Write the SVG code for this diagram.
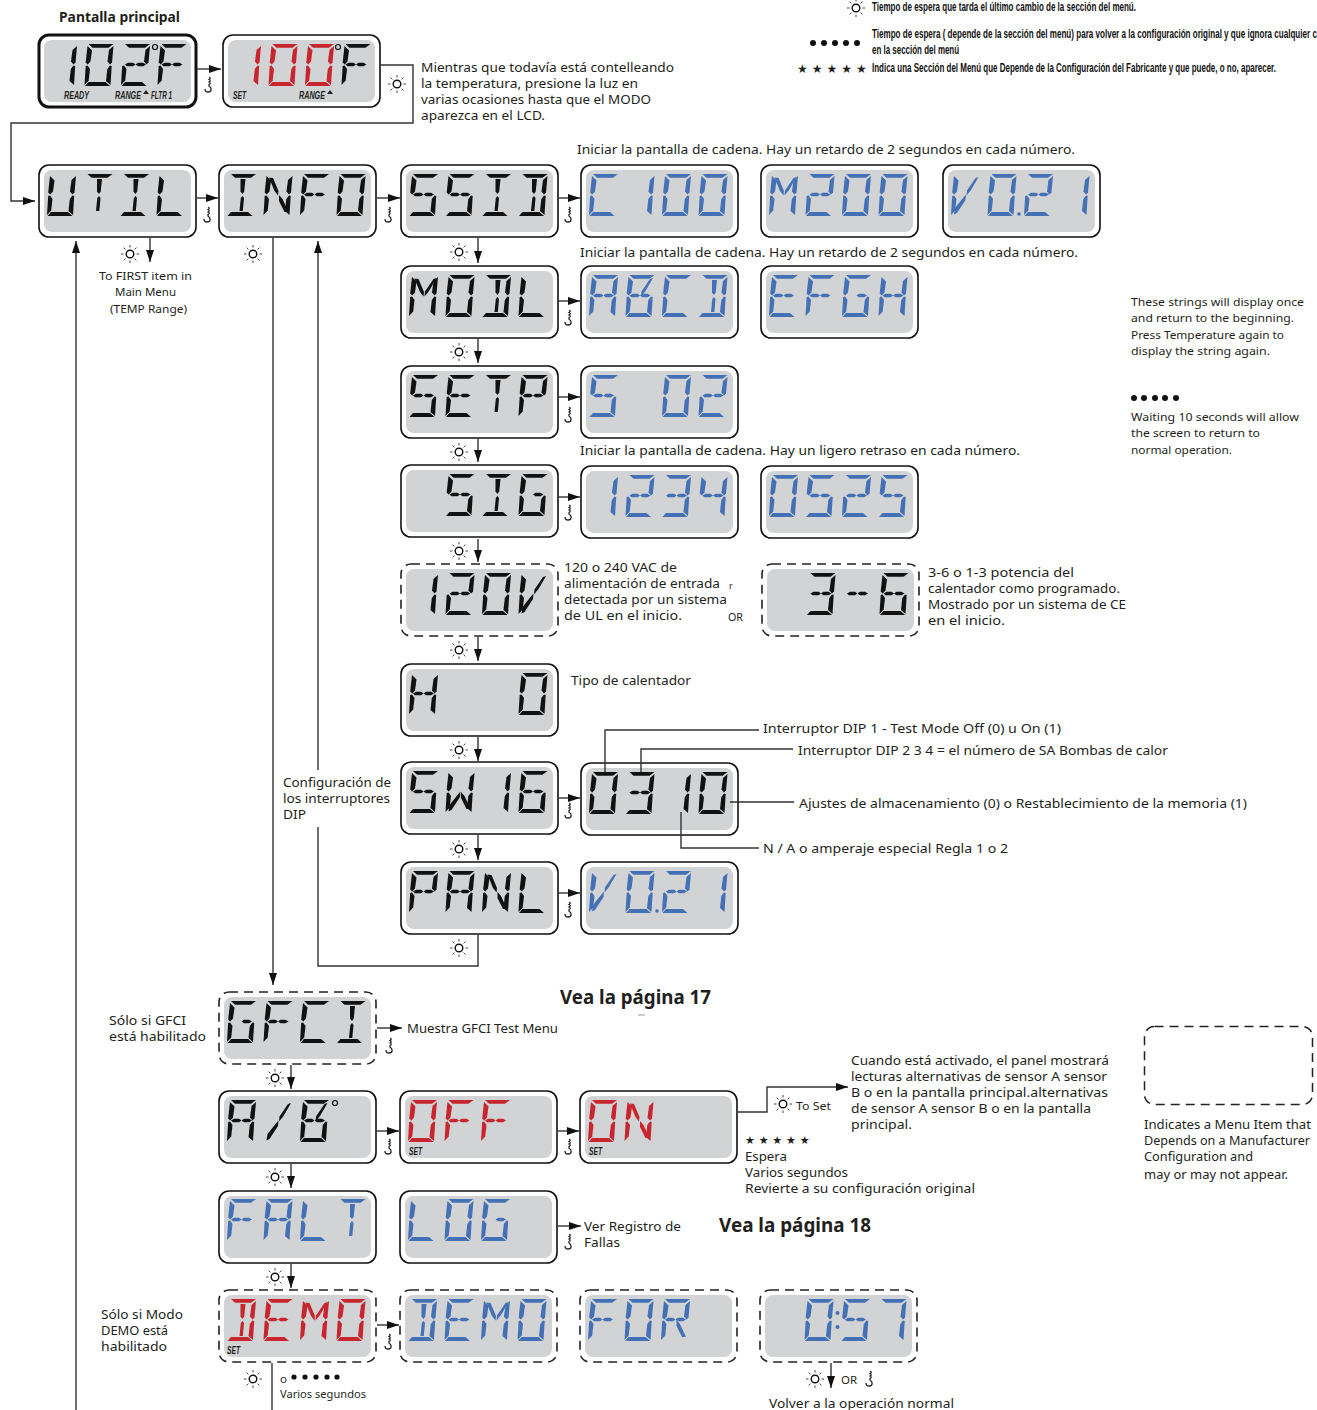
<svg xmlns="http://www.w3.org/2000/svg" width="1317" height="1410" viewBox="0 0 1317 1410">
<style>
text{font-family:"Noto Sans","Open Sans",sans-serif;font-size:13px;fill:#231f20}
.s{font-size:11.500px}
.h{font-weight:700;font-size:15px}
.b{font-weight:700;font-size:20px}
.l{font-family:"Liberation Sans",sans-serif;font-weight:700;font-size:12px;fill:#111}
.t{font-family:"Liberation Sans",sans-serif;font-weight:700;font-style:italic;font-size:10px;fill:#231f20}
.o{fill:#fff;stroke:#111;stroke-width:1.6}
.od{fill:#fff;stroke:#222;stroke-width:1.6;stroke-dasharray:9 6}
.i{fill:#d1d3d4}
.k{fill:#111}.r{fill:#c8252f}.u{fill:#4470b6}
.c{fill:none;stroke:#333;stroke-width:1.4}
.a{marker-end:url(#ar)}
.sun circle{fill:#fff;stroke:#111;stroke-width:1.4}
.sun path{stroke:#111;stroke-width:.8;fill:none}
.hk{fill:none;stroke:#222;stroke-width:1.3}
</style>
<defs>
<marker id="ar" markerUnits="userSpaceOnUse" markerWidth="12" markerHeight="8" refX="12" refY="4" orient="auto"><path d="M0,0L12,4L0,8Z" fill="#111"/></marker>
<g id="sun" class="sun"><circle r="3.8"/><path d="M0,-9V-6.5M0,9V6.5M-9,0H-6.5M9,0H6.500M-6.400,-6.400L-4.600,-4.600M6.400,-6.400L4.600,-4.600M-6.400,6.400L-4.600,4.600M6.400,6.400L4.600,4.600"/></g>
<path id="hook" class="hk" d="M0,-7q2.400,1 0,2.500q2.400,1 0,2.500q2.400,1 0,2.500V2c3,2 3,6 -1,6c-2,0 -3,-1 -3,-3"/>
<polygon id="a" points="4,0 29,0 24,3.800 8,3.800"/>
<polygon id="f" points="3,2 7.500,6.500 6,17.500 3.200,20.500 1.200,18.500"/>
<polygon id="e" points="1.200,22 3,21.500 5.500,25 4.200,36.500 0,41"/>
<polygon id="b" points="29,2 27.500,18.500 25.500,20.500 23,17.500 24.500,6"/>
<polygon id="c" points="27.200,22 25.500,21.500 22.800,25 21.500,37 26,41"/>
<polygon id="d" points="0.500,42 4,38 21,38 25.500,42"/>
<polygon id="g1" points="4,20.500 7,18.800 12,18.800 14.500,20.500 12,22.200 6,22.200"/>
<polygon id="g2" points="14.500,20.500 17,18.800 22,18.800 25,20.500 22,22.200 17,22.200"/>
<polygon id="m" points="13.500,5 18.500,5 17.200,17.500 15.500,20 13.500,17.500"/>
<polygon id="n" points="13.800,24 15.500,22 17,24 15.800,37 12.500,37"/>
<polygon id="tl" points="5.500,3.500 9.500,4 15,17 14.500,21.500 11,17"/>
<polygon id="tr" points="24.500,4 27.500,3 20,16 15.500,21.500 16,16.500"/>
<polygon id="bl" points="3,40.500 4,34 12,24 15,20.500 14.500,26 6,39"/>
<polygon id="br" points="15.500,21 19,25 25,38 21,38 15.500,27"/>
<g id="G-0"><use href="#a"/><use href="#b"/><use href="#c"/><use href="#d"/><use href="#e"/><use href="#f"/></g>
<g id="G-1"><use href="#b"/><use href="#c"/></g>
<g id="G-2"><use href="#a"/><use href="#b"/><use href="#g1"/><use href="#g2"/><use href="#e"/><use href="#d"/></g>
<g id="G-3"><use href="#a"/><use href="#b"/><use href="#g1"/><use href="#g2"/><use href="#c"/><use href="#d"/></g>
<g id="G-4"><use href="#f"/><use href="#b"/><use href="#g1"/><use href="#g2"/><use href="#c"/></g>
<g id="G-5"><use href="#a"/><use href="#f"/><use href="#g1"/><use href="#g2"/><use href="#c"/><use href="#d"/></g>
<g id="G-6"><use href="#a"/><use href="#f"/><use href="#e"/><use href="#g1"/><use href="#g2"/><use href="#c"/><use href="#d"/></g>
<g id="G-7"><use href="#a"/><use href="#b"/><use href="#c"/></g>
<g id="G-A"><use href="#a"/><use href="#b"/><use href="#c"/><use href="#e"/><use href="#f"/><use href="#g1"/><use href="#g2"/></g>
<g id="G-B"><use href="#a"/><use href="#tr"/><use href="#c"/><use href="#d"/><use href="#e"/><use href="#f"/><use href="#g1"/><use href="#g2"/></g>
<g id="G-C"><use href="#a"/><use href="#d"/><use href="#e"/><use href="#f"/></g>
<g id="G-D"><use href="#a"/><use href="#b"/><use href="#c"/><use href="#d"/><use href="#m"/><use href="#n"/></g>
<g id="G-E"><use href="#a"/><use href="#d"/><use href="#e"/><use href="#f"/><use href="#g1"/><use href="#g2"/></g>
<g id="G-F"><use href="#a"/><use href="#e"/><use href="#f"/><use href="#g1"/><use href="#g2"/></g>
<g id="G-G"><use href="#a"/><use href="#c"/><use href="#d"/><use href="#e"/><use href="#f"/><use href="#g2"/></g>
<g id="G-H"><use href="#b"/><use href="#c"/><use href="#e"/><use href="#f"/><use href="#g1"/><use href="#g2"/></g>
<g id="G-I"><use href="#a"/><use href="#d"/><use href="#m"/><use href="#n"/></g>
<g id="G-L"><use href="#d"/><use href="#e"/><use href="#f"/></g>
<g id="G-M"><use href="#b"/><use href="#c"/><use href="#e"/><use href="#f"/><use href="#tl"/><use href="#tr"/></g>
<g id="G-N"><use href="#b"/><use href="#c"/><use href="#e"/><use href="#f"/><use href="#tl"/><use href="#br"/></g>
<g id="G-P"><use href="#a"/><use href="#b"/><use href="#e"/><use href="#f"/><use href="#g1"/><use href="#g2"/></g>
<g id="G-R"><use href="#a"/><use href="#b"/><use href="#e"/><use href="#f"/><use href="#g1"/><use href="#g2"/><use href="#br"/></g>
<g id="G-T"><use href="#a"/><use href="#m"/><use href="#n"/></g>
<g id="G-U"><use href="#b"/><use href="#c"/><use href="#d"/><use href="#e"/><use href="#f"/></g>
<g id="G-V"><use href="#e"/><use href="#f"/><use href="#bl"/><use href="#tr"/></g>
<g id="G-W"><use href="#b"/><use href="#c"/><use href="#e"/><use href="#f"/><use href="#bl"/><use href="#br"/></g>
<g id="G-s"><use href="#bl"/><use href="#tr"/></g>
<g id="G-h"><use href="#g1"/><use href="#g2"/></g>
<g id="lcd"><rect class="o" width="157" height="72" rx="10"/><rect class="i" x="5" y="5" width="147" height="62" rx="8"/></g>
<g id="lcdd"><rect class="od" width="157" height="72" rx="10"/><rect class="i" x="5" y="5" width="147" height="62" rx="8"/></g>
<polygon id="tri" points="0,4 3,0 6,4" fill="#231f20"/>
</defs>

<g id="n-102f" transform="translate(39,35)"><rect class="o" style="stroke-width:3" width="157" height="72" rx="10"/><rect class="i" x="5" y="5" width="147" height="62" rx="8"/><g class="k"><use href="#G-1" x="9" y="9"/><use href="#G-0" x="45.500" y="9"/><use href="#G-2" x="82" y="9"/><use href="#G-F" x="118.500" y="9"/></g><circle cx="116" cy="12" r="2.500" fill="none" stroke="#111" stroke-width="1.200"/><text class="t" x="25" y="64" textLength="25" lengthAdjust="spacingAndGlyphs">READY</text><text class="t" x="76" y="64" textLength="26" lengthAdjust="spacingAndGlyphs">RANGE</text><use href="#tri" x="104" y="55"/><text class="t" x="112" y="64" textLength="21" lengthAdjust="spacingAndGlyphs">FLTR 1</text></g>
<g id="n-100f" transform="translate(223,35)"><use href="#lcd"/><g class="r"><use href="#G-1" x="9" y="9"/><use href="#G-0" x="45.500" y="9"/><use href="#G-0" x="82" y="9"/></g><g class="k"><use href="#G-F" x="118.500" y="9"/></g><circle cx="115" cy="12" r="2.500" fill="none" stroke="#111" stroke-width="1.200"/><text class="t" x="10" y="64" textLength="13" lengthAdjust="spacingAndGlyphs">SET</text><text class="t" x="76" y="64" textLength="26" lengthAdjust="spacingAndGlyphs">RANGE</text><use href="#tri" x="104" y="55"/></g>

<g id="n-util" transform="translate(39,165)"><use href="#lcd"/><g class="k"><use href="#G-U" x="8" y="9"/><use href="#G-T" x="44.500" y="9"/><use href="#G-I" x="81" y="9"/><use href="#G-L" x="117.500" y="9"/></g></g>
<g id="n-info" transform="translate(219,165)"><use href="#lcd"/><g class="k"><use href="#G-I" x="8" y="9"/><use href="#G-N" x="44.500" y="9"/><use href="#G-F" x="81" y="9"/><use href="#G-0" x="117.500" y="9"/></g></g>
<g id="n-ssid" transform="translate(401,165)"><use href="#lcd"/><g class="k"><use href="#G-5" x="8" y="9"/><use href="#G-5" x="44.500" y="9"/><use href="#G-I" x="81" y="9"/><use href="#G-D" x="117.500" y="9"/></g></g>
<g id="n-c100" transform="translate(581,165)"><use href="#lcd"/><g class="u"><use href="#G-C" x="8" y="9"/><use href="#G-1" x="44.500" y="9"/><use href="#G-0" x="81" y="9"/><use href="#G-0" x="117.500" y="9"/></g></g>
<g id="n-m200" transform="translate(761,165)"><use href="#lcd"/><g class="u"><use href="#G-M" x="8" y="9"/><use href="#G-2" x="44.500" y="9"/><use href="#G-0" x="81" y="9"/><use href="#G-0" x="117.500" y="9"/></g></g>
<g id="n-v021a" transform="translate(943,165)"><use href="#lcd"/><g class="u"><use href="#G-V" x="8" y="9"/><use href="#G-0" x="44.500" y="9"/><circle cx="76" cy="49" r="1.800"/><use href="#G-2" x="81" y="9"/><use href="#G-1" x="117.500" y="9"/></g></g>

<g id="n-modl" transform="translate(401,266)"><use href="#lcd"/><g class="k"><use href="#G-M" x="8" y="9"/><use href="#G-0" x="44.500" y="9"/><use href="#G-D" x="81" y="9"/><use href="#G-L" x="117.500" y="9"/></g></g>
<g id="n-abcd" transform="translate(581,266)"><use href="#lcd"/><g class="u"><use href="#G-A" x="8" y="9"/><use href="#G-B" x="44.500" y="9"/><use href="#G-C" x="81" y="9"/><use href="#G-D" x="117.500" y="9"/></g></g>
<g id="n-efgh" transform="translate(761,266)"><use href="#lcd"/><g class="u"><use href="#G-E" x="8" y="9"/><use href="#G-F" x="44.500" y="9"/><use href="#G-G" x="81" y="9"/><use href="#G-H" x="117.500" y="9"/></g></g>

<g id="n-setp" transform="translate(401,366)"><use href="#lcd"/><g class="k"><use href="#G-5" x="8" y="9"/><use href="#G-E" x="44.500" y="9"/><use href="#G-T" x="81" y="9"/><use href="#G-P" x="117.500" y="9"/></g></g>
<g id="n-s02" transform="translate(581,366)"><use href="#lcd"/><g class="u"><use href="#G-5" x="8" y="9"/><use href="#G-0" x="81" y="9"/><use href="#G-2" x="117.500" y="9"/></g></g>

<g id="n-sig" transform="translate(401,465)"><use href="#lcd"/><g class="k"><use href="#G-5" x="44.500" y="9"/><use href="#G-I" x="81" y="9"/><use href="#G-G" x="117.500" y="9"/></g></g>
<g id="n-1234" transform="translate(581,466)"><use href="#lcd"/><g class="u"><use href="#G-1" x="8" y="9"/><use href="#G-2" x="44.500" y="9"/><use href="#G-3" x="81" y="9"/><use href="#G-4" x="117.500" y="9"/></g></g>
<g id="n-0525" transform="translate(761,466)"><use href="#lcd"/><g class="u"><use href="#G-0" x="8" y="9"/><use href="#G-5" x="44.500" y="9"/><use href="#G-2" x="81" y="9"/><use href="#G-5" x="117.500" y="9"/></g></g>

<g id="n-120v" transform="translate(401,564)"><use href="#lcdd"/><g class="k"><use href="#G-1" x="8" y="9"/><use href="#G-2" x="44.500" y="9"/><use href="#G-0" x="81" y="9"/><use href="#G-V" x="117.500" y="9"/></g></g>
<g id="n-3-6" transform="translate(762,564)"><use href="#lcdd"/><g class="k"><use href="#G-3" x="44.500" y="9"/><use href="#G-h" x="81" y="9"/><use href="#G-6" x="117.500" y="9"/></g></g>

<g id="n-h0" transform="translate(401,664)"><use href="#lcd"/><g class="k"><use href="#G-H" x="8" y="9"/><use href="#G-0" x="117.500" y="9"/></g></g>
<g id="n-sw16" transform="translate(401,762)"><use href="#lcd"/><g class="k"><use href="#G-5" x="8" y="9"/><use href="#G-W" x="44.500" y="9"/><use href="#G-1" x="81" y="9"/><use href="#G-6" x="117.500" y="9"/></g></g>
<g id="n-0310" transform="translate(581,763)"><use href="#lcd"/><g class="k"><use href="#G-0" x="8" y="9"/><use href="#G-3" x="44.500" y="9"/><use href="#G-1" x="81" y="9"/><use href="#G-0" x="117.500" y="9"/></g></g>
<g id="n-panl" transform="translate(401,862)"><use href="#lcd"/><g class="k"><use href="#G-P" x="8" y="9"/><use href="#G-A" x="44.500" y="9"/><use href="#G-N" x="81" y="9"/><use href="#G-L" x="117.500" y="9"/></g></g>
<g id="n-v021b" transform="translate(581,862)"><use href="#lcd"/><g class="u"><use href="#G-V" x="8" y="9"/><use href="#G-0" x="44.500" y="9"/><circle cx="76" cy="49" r="1.800"/><use href="#G-2" x="81" y="9"/><use href="#G-1" x="117.500" y="9"/></g></g>

<g id="n-gfci" transform="translate(219,992)"><use href="#lcdd"/><g class="k"><use href="#G-G" x="8" y="9"/><use href="#G-F" x="44.500" y="9"/><use href="#G-C" x="81" y="9"/><use href="#G-I" x="117.500" y="9"/></g></g>
<g id="n-ab" transform="translate(219,1091)"><use href="#lcd"/><g class="k"><use href="#G-A" x="8" y="9"/><use href="#G-s" x="44.500" y="9"/><use href="#G-B" x="81" y="9"/></g><circle cx="116" cy="12" r="2.500" fill="none" stroke="#111" stroke-width="1.200"/></g>
<g id="n-off" transform="translate(400,1091)"><use href="#lcd"/><g class="r"><use href="#G-0" x="8" y="9"/><use href="#G-F" x="44.500" y="9"/><use href="#G-F" x="81" y="9"/></g><text class="t" x="9" y="64" textLength="13" lengthAdjust="spacingAndGlyphs">SET</text></g>
<g id="n-on" transform="translate(580,1091)"><use href="#lcd"/><g class="r"><use href="#G-0" x="8" y="9"/><use href="#G-N" x="44.500" y="9"/></g><text class="t" x="9" y="64" textLength="13" lengthAdjust="spacingAndGlyphs">SET</text></g>
<g id="n-falt" transform="translate(219,1191)"><use href="#lcd"/><g class="u"><use href="#G-F" x="8" y="8"/><use href="#G-A" x="44.500" y="8"/><use href="#G-L" x="81" y="8"/><use href="#G-T" x="117.500" y="8"/></g></g>
<g id="n-log" transform="translate(400,1191)"><use href="#lcd"/><g class="u"><use href="#G-L" x="8" y="8"/><use href="#G-0" x="44.500" y="8"/><use href="#G-G" x="81" y="8"/></g></g>
<g id="n-demor" transform="translate(219,1290)"><use href="#lcdd"/><g class="r"><use href="#G-D" x="8" y="9"/><use href="#G-E" x="44.500" y="9"/><use href="#G-M" x="81" y="9"/><use href="#G-0" x="117.500" y="9"/></g><text class="t" x="8" y="64" textLength="13" lengthAdjust="spacingAndGlyphs">SET</text></g>
<g id="n-demob" transform="translate(400,1290)"><use href="#lcdd"/><g class="u"><use href="#G-D" x="8" y="9"/><use href="#G-E" x="44.500" y="9"/><use href="#G-M" x="81" y="9"/><use href="#G-0" x="117.500" y="9"/></g></g>
<g id="n-for" transform="translate(580,1290)"><use href="#lcdd"/><g class="u"><use href="#G-F" x="8" y="9"/><use href="#G-0" x="44.500" y="9"/><use href="#G-R" x="81" y="9"/></g></g>
<g id="n-057" transform="translate(760,1290)"><use href="#lcdd"/><g class="u"><use href="#G-0" x="44.500" y="9"/><circle cx="77.500" cy="23" r="2"/><circle cx="77.500" cy="37" r="2"/><use href="#G-5" x="81" y="9"/><use href="#G-7" x="117.500" y="9"/></g></g>
<rect id="legend-box" x="1144.500" y="1026.500" width="168" height="78" rx="10" fill="none" stroke="#222" stroke-width="1.500" stroke-dasharray="9 6"/>

<g id="connectors">
<path class="c a" d="M197,69H221"/>
<path class="c a" d="M381,65H413V123H11V201H35"/>
<path class="c a" d="M197,198H218"/>
<path class="c a" d="M377,198H400"/>
<path class="c a" d="M558,198H580"/>
<path class="c a" d="M150,238V262"/>
<path class="c a" d="M76,1410V241"/>
<path class="c a" d="M273,238V985"/>
<path class="c a" d="M318,770V241"/>
<path class="c" d="M318,827V966H478V935"/>
<path class="c a" d="M478,238V263"/>
<path class="c a" d="M478,339V363"/>
<path class="c a" d="M478,439V462"/>
<path class="c a" d="M478,539V562"/>
<path class="c a" d="M478,637V661"/>
<path class="c a" d="M478,737V761"/>
<path class="c a" d="M478,835V860"/>
<path class="c a" d="M558,301H580"/>
<path class="c a" d="M558,397H580"/>
<path class="c a" d="M558,497H580"/>
<path class="c a" d="M558,798H580"/>
<path class="c a" d="M558,893H580"/>
<path class="c" d="M605,772V730H759M641,772V749H793M730,802H794M681,812V848H759"/>
<path class="c a" d="M377,1028H402"/>
<path class="c a" d="M291,1065V1089"/>
<path class="c a" d="M291,1164V1188"/>
<path class="c a" d="M291,1264V1288"/>
<path class="c a" d="M377,1131H399"/>
<path class="c a" d="M558,1131H579"/>
<path class="c a" d="M738,1112H767V1087H848"/>
<path class="c a" d="M558,1226H581"/>
<path class="c a" d="M377,1325H399"/>
<path class="c" d="M272,1363V1410"/>
<path class="c a" d="M831,1363V1388"/>
<path d="M638,1015H645" fill="none" stroke="#999" stroke-width="1"/>
</g>

<g id="icons">
<use href="#sun" x="856" y="8"/><use href="#sun" x="397" y="84"/><use href="#sun" x="130" y="254"/><use href="#sun" x="253" y="254"/><use href="#sun" x="459" y="252"/><use href="#sun" x="459" y="352"/><use href="#sun" x="459" y="452"/><use href="#sun" x="459" y="551"/><use href="#sun" x="459" y="650"/><use href="#sun" x="459" y="750"/><use href="#sun" x="459" y="849"/><use href="#sun" x="459" y="948"/><use href="#sun" x="275" y="1078"/><use href="#sun" x="275" y="1177"/><use href="#sun" x="275" y="1277"/><use href="#sun" x="253" y="1379"/><use href="#sun" x="815" y="1379"/><use href="#sun" x="783" y="1104"/>
<use href="#hook" x="209" y="84"/><use href="#hook" x="208" y="214"/><use href="#hook" x="389" y="214"/><use href="#hook" x="569" y="214"/><use href="#hook" x="569" y="317"/><use href="#hook" x="569" y="414"/><use href="#hook" x="569" y="512"/><use href="#hook" x="569" y="810"/><use href="#hook" x="569" y="909"/><use href="#hook" x="390" y="1045"/><use href="#hook" x="389" y="1146"/><use href="#hook" x="569" y="1146"/><use href="#hook" x="569" y="1241"/><use href="#hook" x="389" y="1341"/><use href="#hook" x="870" y="1378"/>
</g>

<g id="marks" fill="#111">
<circle cx="813" cy="43" r="3"/><circle cx="824" cy="43" r="3"/><circle cx="835" cy="43" r="3"/><circle cx="846" cy="43" r="3"/><circle cx="857" cy="43" r="3"/>
<circle cx="1134" cy="398" r="3"/><circle cx="1144" cy="398" r="3"/><circle cx="1155" cy="398" r="3"/><circle cx="1165" cy="398" r="3"/><circle cx="1176" cy="398" r="3"/>
<circle cx="294" cy="1377" r="2.600"/><circle cx="305" cy="1377" r="2.600"/><circle cx="316" cy="1377" r="2.600"/><circle cx="327" cy="1377" r="2.600"/><circle cx="337" cy="1377" r="2.600"/>
</g>

<g id="labels">
<text class="h" x="59" y="22" textLength="121" lengthAdjust="spacingAndGlyphs">Pantalla principal</text>
<text class="l" transform="translate(872,11) scale(.67,1)" textLength="394" lengthAdjust="spacingAndGlyphs">Tiempo de espera que tarda el último cambio de la sección del menú.</text>
<text class="l" transform="translate(872,38) scale(.67,1)" textLength="664" lengthAdjust="spacingAndGlyphs">Tiempo de espera ( depende de la sección del menú) para volver a la configuración original y que ignora cualquier c</text>
<text class="l" transform="translate(872,54) scale(.67,1)" textLength="130" lengthAdjust="spacingAndGlyphs">en la sección del menú</text>
<text class="l" transform="translate(872,72) scale(.67,1)" textLength="603" lengthAdjust="spacingAndGlyphs">Indica una Sección del Menú que Depende de la Configuración del Fabricante y que puede, o no, aparecer.</text>
<text x="797" y="73" style="font-family:'DejaVu Sans',sans-serif;font-size:12px" letter-spacing="4">★★★★★</text>
<text x="745" y="1144" style="font-family:'DejaVu Sans',sans-serif;font-size:11px" letter-spacing="3.800">★★★★★</text>
<text x="421" y="72" textLength="253" lengthAdjust="spacingAndGlyphs">Mientras que todavía está contelleando</text>
<text x="421" y="88" textLength="217" lengthAdjust="spacingAndGlyphs">la temperatura, presione la luz en</text>
<text x="421" y="104" textLength="230" lengthAdjust="spacingAndGlyphs">varias ocasiones hasta que el MODO</text>
<text x="421" y="120" textLength="124" lengthAdjust="spacingAndGlyphs">aparezca en el LCD.</text>
<text x="577" y="154" textLength="498" lengthAdjust="spacingAndGlyphs">Iniciar la pantalla de cadena. Hay un retardo de 2 segundos en cada número.</text>
<text x="580" y="257" textLength="498" lengthAdjust="spacingAndGlyphs">Iniciar la pantalla de cadena. Hay un retardo de 2 segundos en cada número.</text>
<text x="580" y="455" textLength="440" lengthAdjust="spacingAndGlyphs">Iniciar la pantalla de cadena. Hay un ligero retraso en cada número.</text>
<text class="s" x="99" y="280" textLength="93" lengthAdjust="spacingAndGlyphs">To FIRST item in</text>
<text class="s" x="115" y="296" textLength="61" lengthAdjust="spacingAndGlyphs">Main Menu</text>
<text class="s" x="110" y="313" textLength="77" lengthAdjust="spacingAndGlyphs">(TEMP Range)</text>
<text class="s" x="1131" y="306" textLength="173" lengthAdjust="spacingAndGlyphs">These strings will display once</text>
<text class="s" x="1131" y="322" textLength="163" lengthAdjust="spacingAndGlyphs">and return to the beginning.</text>
<text class="s" x="1131" y="339" textLength="153" lengthAdjust="spacingAndGlyphs">Press Temperature again to</text>
<text class="s" x="1131" y="355" textLength="139" lengthAdjust="spacingAndGlyphs">display the string again.</text>
<text class="s" x="1131" y="421" textLength="168" lengthAdjust="spacingAndGlyphs">Waiting 10 seconds will allow</text>
<text class="s" x="1131" y="437" textLength="129" lengthAdjust="spacingAndGlyphs">the screen to return to</text>
<text class="s" x="1131" y="454" textLength="101" lengthAdjust="spacingAndGlyphs">normal operation.</text>
<text x="564" y="572" textLength="113" lengthAdjust="spacingAndGlyphs">120 o 240 VAC de</text>
<text x="564" y="588" textLength="156" lengthAdjust="spacingAndGlyphs">alimentación de entrada</text>
<text x="564" y="604" textLength="163" lengthAdjust="spacingAndGlyphs">detectada por un sistema</text>
<text x="564" y="620" textLength="118" lengthAdjust="spacingAndGlyphs">de UL en el inicio.</text>
<text x="729" y="589" style="font-size:9px">r</text>
<text class="s" x="728" y="621" textLength="15" lengthAdjust="spacingAndGlyphs">OR</text>
<text x="928" y="577" textLength="146" lengthAdjust="spacingAndGlyphs">3-6 o 1-3 potencia del</text>
<text x="928" y="593" textLength="192" lengthAdjust="spacingAndGlyphs">calentador como programado.</text>
<text x="928" y="609" textLength="198" lengthAdjust="spacingAndGlyphs">Mostrado por un sistema de CE</text>
<text x="928" y="625" textLength="77" lengthAdjust="spacingAndGlyphs">en el inicio.</text>
<text x="571" y="685" textLength="120" lengthAdjust="spacingAndGlyphs">Tipo de calentador</text>
<text x="763" y="733" textLength="298" lengthAdjust="spacingAndGlyphs">Interruptor DIP 1 - Test Mode Off (0) u On (1)</text>
<text x="798" y="755" textLength="370" lengthAdjust="spacingAndGlyphs">Interruptor DIP 2 3 4 = el número de SA Bombas de calor</text>
<text x="799" y="808" textLength="448" lengthAdjust="spacingAndGlyphs">Ajustes de almacenamiento (0) o Restablecimiento de la memoria (1)</text>
<text x="763" y="853" textLength="245" lengthAdjust="spacingAndGlyphs">N / A o amperaje especial Regla 1 o 2</text>
<text x="283" y="787" textLength="108" lengthAdjust="spacingAndGlyphs">Configuración de</text>
<text x="283" y="803" textLength="107" lengthAdjust="spacingAndGlyphs">los interruptores</text>
<text x="283" y="819" textLength="23" lengthAdjust="spacingAndGlyphs">DIP</text>
<text class="b" x="560" y="1004" textLength="151" lengthAdjust="spacingAndGlyphs">Vea la página 17</text>
<text x="109" y="1025" textLength="77" lengthAdjust="spacingAndGlyphs">Sólo si GFCI</text>
<text x="109" y="1041" textLength="97" lengthAdjust="spacingAndGlyphs">está habilitado</text>
<text x="407" y="1033" textLength="151" lengthAdjust="spacingAndGlyphs">Muestra GFCI Test Menu</text>
<text x="851" y="1065" textLength="258" lengthAdjust="spacingAndGlyphs">Cuando está activado, el panel mostrará</text>
<text x="851" y="1081" textLength="256" lengthAdjust="spacingAndGlyphs">lecturas alternativas de sensor A sensor</text>
<text x="851" y="1097" textLength="257" lengthAdjust="spacingAndGlyphs">B o en la pantalla principal.alternativas</text>
<text x="851" y="1113" textLength="240" lengthAdjust="spacingAndGlyphs">de sensor A sensor B o en la pantalla</text>
<text x="851" y="1129" textLength="61" lengthAdjust="spacingAndGlyphs">principal.</text>
<text class="s" x="796" y="1110" textLength="35" lengthAdjust="spacingAndGlyphs">To Set</text>
<text x="745" y="1161" textLength="42" lengthAdjust="spacingAndGlyphs">Espera</text>
<text x="745" y="1177" textLength="103" lengthAdjust="spacingAndGlyphs">Varios segundos</text>
<text x="745" y="1193" textLength="230" lengthAdjust="spacingAndGlyphs">Revierte a su configuración original</text>
<text x="1144" y="1129" textLength="167" lengthAdjust="spacingAndGlyphs">Indicates a Menu Item that</text>
<text x="1144" y="1145" textLength="166" lengthAdjust="spacingAndGlyphs">Depends on a Manufacturer</text>
<text x="1144" y="1161" textLength="109" lengthAdjust="spacingAndGlyphs">Configuration and</text>
<text x="1144" y="1179" textLength="144" lengthAdjust="spacingAndGlyphs">may or may not appear.</text>
<text x="584" y="1231" textLength="97" lengthAdjust="spacingAndGlyphs">Ver Registro de</text>
<text x="584" y="1247" textLength="36" lengthAdjust="spacingAndGlyphs">Fallas</text>
<text class="b" x="719" y="1232" textLength="152" lengthAdjust="spacingAndGlyphs">Vea la página 18</text>
<text x="101" y="1319" textLength="82" lengthAdjust="spacingAndGlyphs">Sólo si Modo</text>
<text x="101" y="1335" textLength="67" lengthAdjust="spacingAndGlyphs">DEMO está</text>
<text x="101" y="1351" textLength="66" lengthAdjust="spacingAndGlyphs">habilitado</text>
<text class="s" x="280" y="1383">o</text>
<text class="s" x="280" y="1398" textLength="86" lengthAdjust="spacingAndGlyphs">Varios segundos</text>
<text class="s" x="841" y="1384" textLength="16" lengthAdjust="spacingAndGlyphs">OR</text>
<text x="769" y="1408" textLength="185" lengthAdjust="spacingAndGlyphs">Volver a la operación normal</text>
</g>
</svg>
